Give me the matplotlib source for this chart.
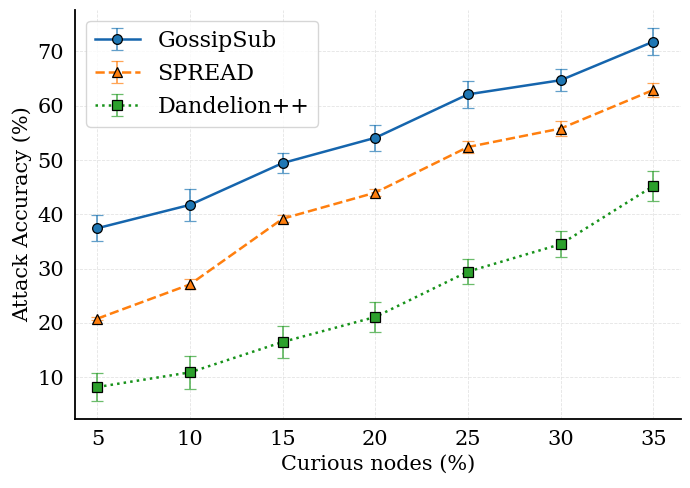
import matplotlib
matplotlib.use("Agg")
import matplotlib.pyplot as plt

curious = [5, 10, 15, 20, 25, 30, 35]

gossipsub = [37.45, 41.75, 49.45, 54.1, 62.1, 64.7, 71.8]
gossipsub_err = [2.45, 2.9, 1.85, 2.4, 2.5, 2.0, 2.45]

spread = [20.8, 27.1, 39.2, 44.0, 52.4, 55.8, 62.9]
spread_err = [0.3, 0.9, 0.6, 0.6, 1.1, 1.3, 1.2]

dandelion = [8.2, 10.9, 16.5, 21.1, 29.45, 34.5, 45.2]
dandelion_err = [2.5, 3.0, 2.95, 2.7, 2.3, 2.4, 2.8]

plt.rcParams['font.family'] = 'DejaVu Serif'

fig, ax = plt.subplots(figsize=(6.9, 4.88), dpi=100)
fig.subplots_adjust(left=0.109, right=0.987, bottom=0.141, top=0.98)

series = [
    ("GossipSub", gossipsub, gossipsub_err, '#1565ad', '#1f77b4', 'o', '-'),
    ("SPREAD", spread, spread_err, '#ff7f0e', '#ff7f0e', '^', '--'),
    ("Dandelion++", dandelion, dandelion_err, '#17921a', '#2ca02c', 's', ':'),
]

for name, vals, errs, lc, mc, mk, ls in series:
    eb = ax.errorbar(curious, vals, yerr=errs, label=name, color=lc, linestyle=ls,
                     linewidth=1.8, marker=mk, markersize=7, markerfacecolor=mc,
                     markeredgecolor='black', markeredgewidth=0.9,
                     ecolor=mc, elinewidth=1.3, capsize=4, capthick=1.0)
    for part in eb[1] + eb[2]:
        part.set_alpha(0.7)

ax.set_xlim(3.8, 36.5)
ax.set_xticks(curious)
ax.set_yticks([10, 20, 30, 40, 50, 60, 70])
ax.tick_params(axis='both', length=0, pad=8, labelsize=15)
ax.grid(True, linestyle='--', color='#dddddd', linewidth=0.6, alpha=0.8)
ax.spines['top'].set_visible(False)
ax.spines['right'].set_visible(False)
ax.spines['left'].set_linewidth(1.3)
ax.spines['bottom'].set_linewidth(1.3)

ax.set_xlabel('Curious nodes (%)', fontsize=15)
ax.set_ylabel('Attack Accuracy (%)', fontsize=15)
ax.legend(loc='upper left', fontsize=16, frameon=True, edgecolor='#cccccc')

plt.savefig('out.png', dpi=100)
